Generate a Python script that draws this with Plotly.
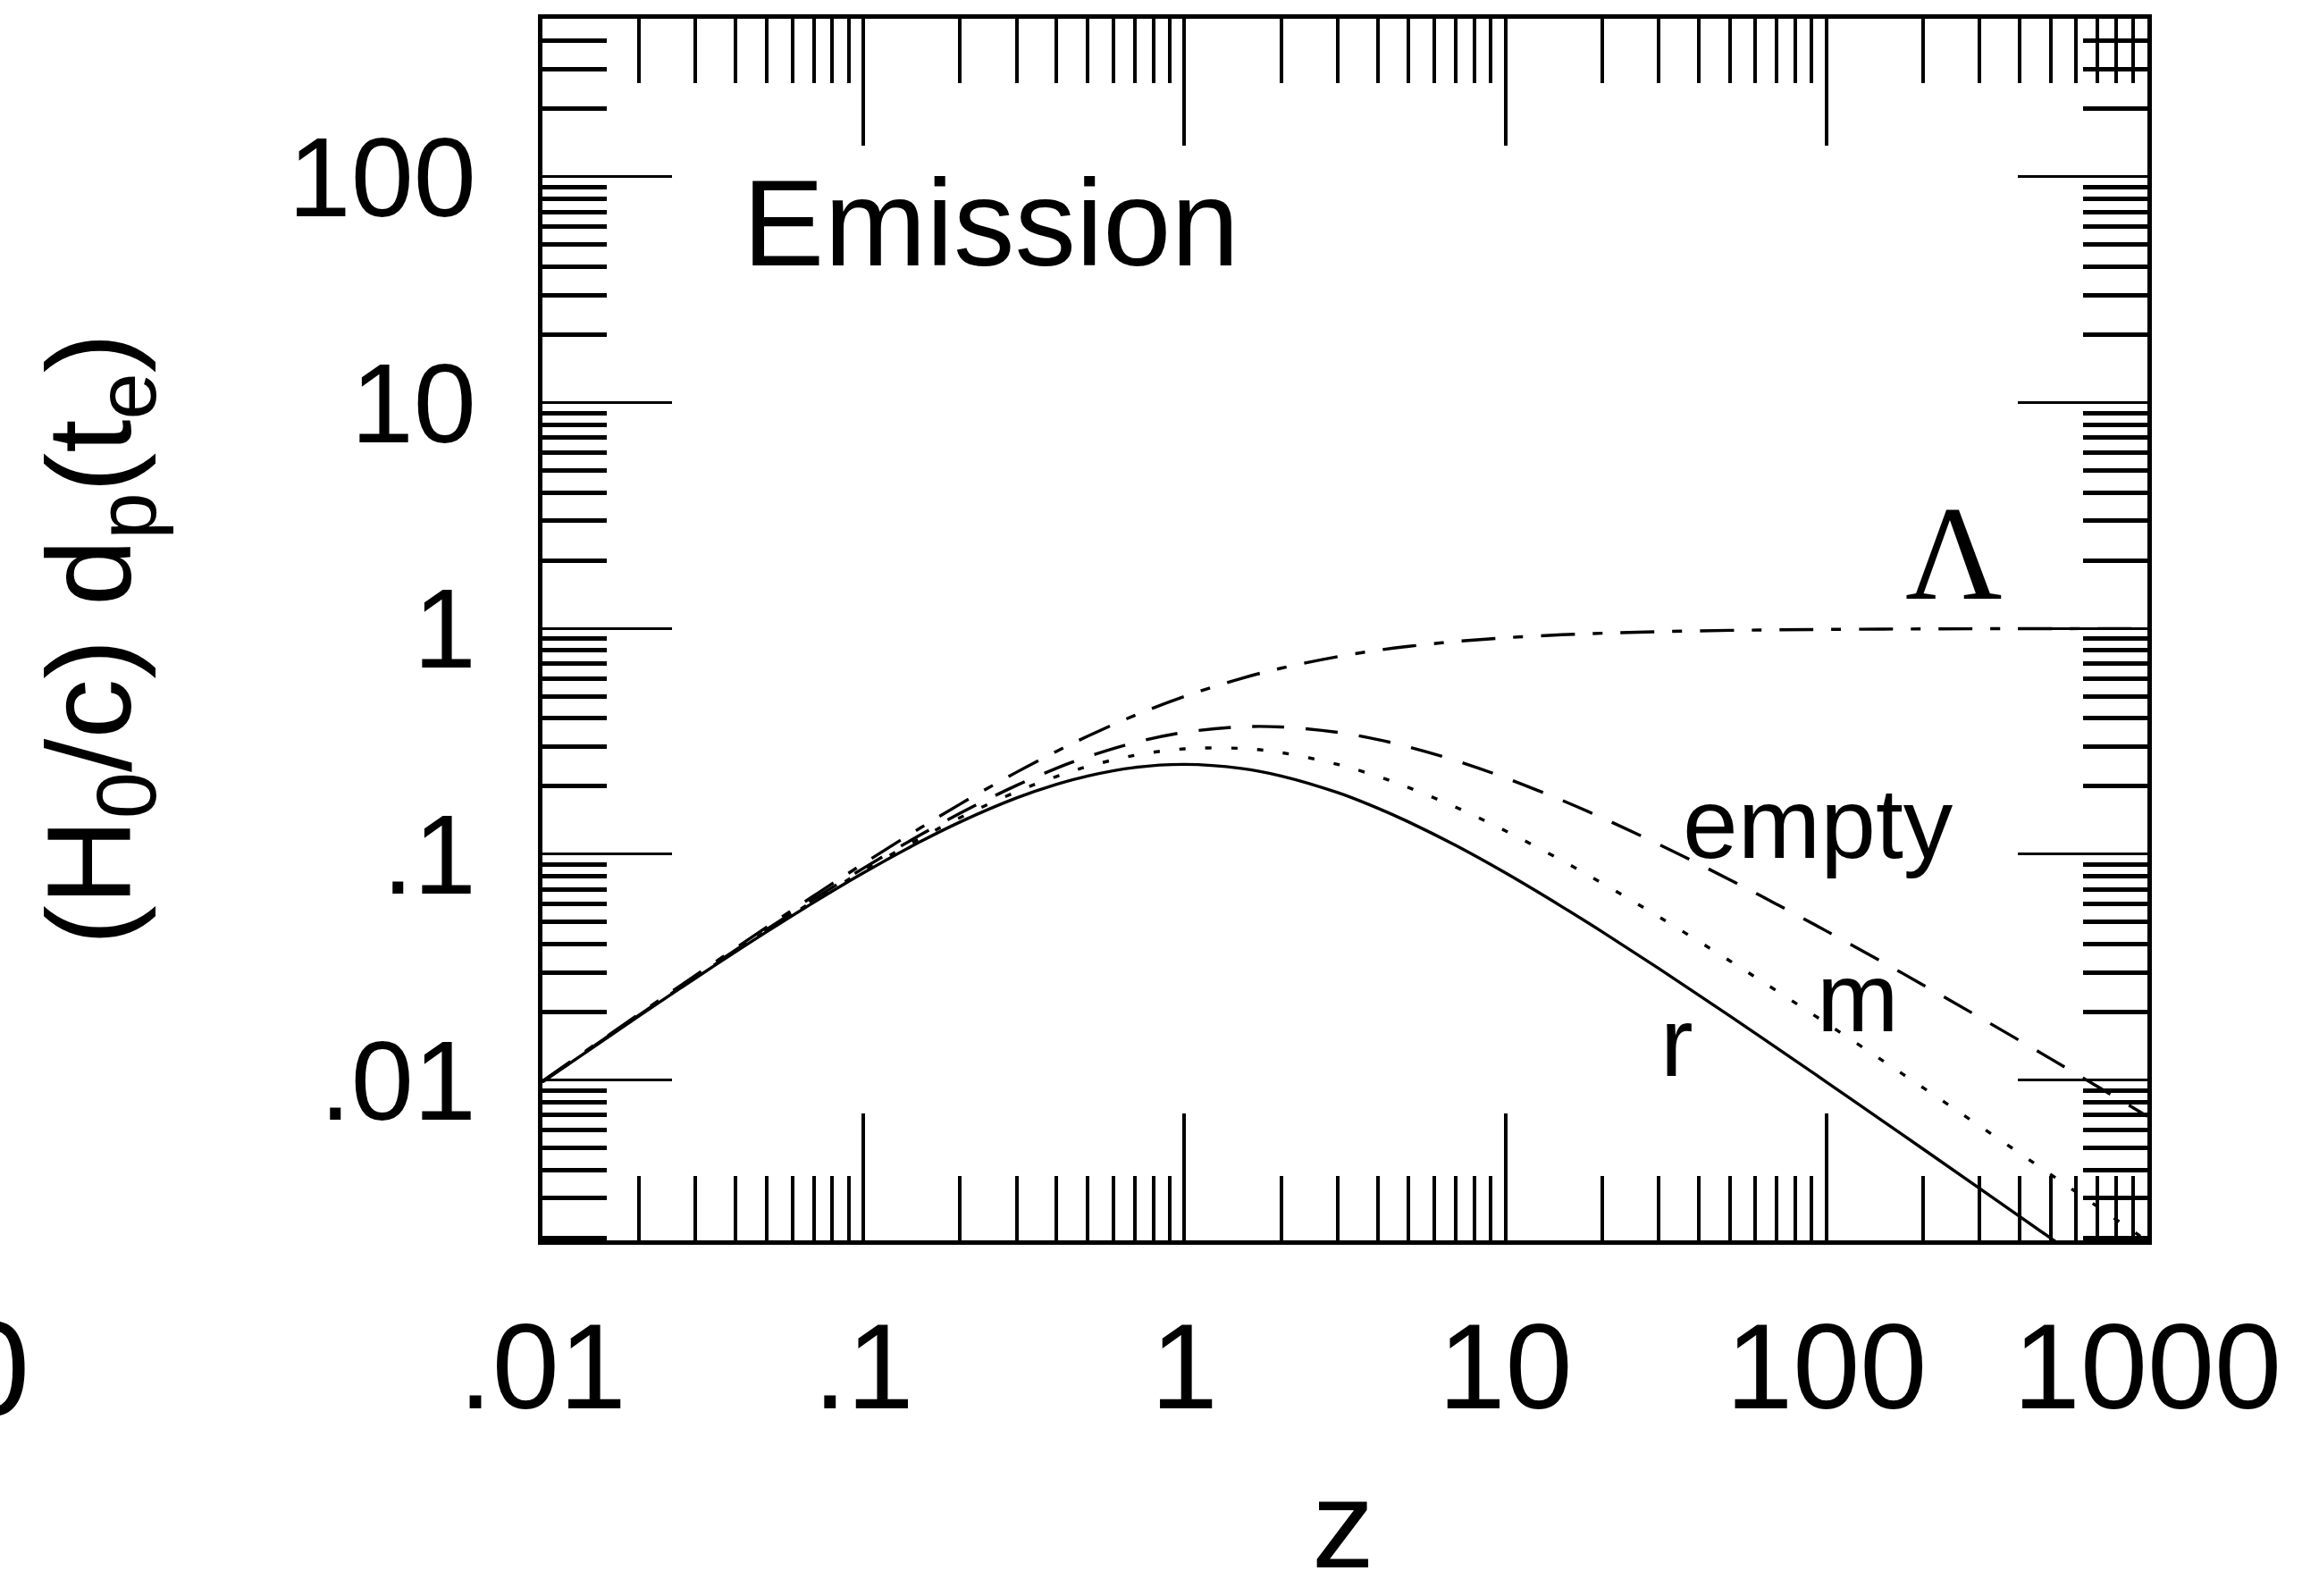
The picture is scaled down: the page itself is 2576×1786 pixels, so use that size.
import plotly.graph_objects as go

# ---------------- data ----------------
z = [0.01, 0.02, 0.03, 0.05, 0.07, 0.1, 0.15, 0.2, 0.3, 0.4, 0.5, 0.7, 1, 1.5, 2, 3, 4, 5,
     7, 10, 15, 20, 30, 50, 70, 100, 150, 200, 300, 500, 700, 1000]

d_lambda = [0.0099, 0.0196, 0.0291, 0.0476, 0.0654, 0.0909, 0.1304, 0.1667, 0.2308, 0.2857,
            0.3333, 0.4118, 0.5, 0.6, 0.6667, 0.75, 0.8, 0.8333, 0.875, 0.9091, 0.9375,
            0.9524, 0.9677, 0.9804, 0.9859, 0.9901, 0.9934, 0.995, 0.9967, 0.998, 0.9986, 0.999]

d_empty = [0.00985, 0.01941, 0.0287, 0.04647, 0.06323, 0.08665, 0.12153, 0.15193, 0.20182,
           0.24034, 0.27031, 0.31213, 0.34657, 0.36652, 0.3662, 0.34657, 0.32189, 0.29863,
           0.25993, 0.21799, 0.17329, 0.14498, 0.11077, 0.0771, 0.06004, 0.04569, 0.03323,
           0.02638, 0.01896, 0.01241, 0.009347, 0.006902]

d_matter = [0.009828, 0.019318, 0.028488, 0.045905, 0.062176, 0.084613, 0.117383, 0.145215,
            0.189142, 0.221209, 0.244671, 0.274159, 0.292893, 0.294035, 0.281767, 0.25,
            0.221114, 0.197251, 0.161612, 0.126998, 0.09375, 0.074455, 0.052929, 0.033724,
            0.024826, 0.017832, 0.012167, 0.009248, 0.006262, 0.003814, 0.002745, 0.001935]

d_radiation = [0.009803, 0.019223, 0.028278, 0.045351, 0.061141, 0.082645, 0.113422, 0.138889,
               0.177515, 0.204082, 0.222222, 0.242215, 0.25, 0.24, 0.222222, 0.1875, 0.16,
               0.138889, 0.109375, 0.082645, 0.058594, 0.045351, 0.031217, 0.019223, 0.013886,
               0.009803, 0.006579, 0.00495, 0.003311, 0.001992, 0.001424, 0.000998]

x_tickvals = [0.01, 0.1, 1, 10, 100, 1000]
x_ticktext = [".01", ".1", "1", "10", "100", "1000"]
y_tickvals = [0.01, 0.1, 1, 10, 100]
y_ticktext = [".01", ".1", "1", "10", "100"]

x_minor = [m * 10.0 ** e for e in range(-2, 3) for m in range(2, 10)]
y_minor = [m * 10.0 ** e for e in range(-3, 3) for m in range(2, 10) if 0.0019 <= m * 10.0 ** e <= 501]

FONT = "Liberation Sans, Arial, Helvetica, sans-serif"

fig = go.Figure()
line_specs = [
    (d_radiation, "solid"),
    (d_matter, "7px,22px"),
    (d_empty, "36px,24px"),
    (d_lambda, "38px,20px,11px,20px"),
]
for ys, dash in line_specs:
    fig.add_trace(go.Scatter(x=z, y=ys, mode="lines", line_shape="spline",
                             line=dict(color="black", width=3.4, dash=dash),
                             hoverinfo="skip"))

axis_common = dict(
    type="log", showline=True, linewidth=5, linecolor="black", mirror="allticks",
    showgrid=False, zeroline=False, ticks="inside", tickcolor="black",
    tickmode="array",
)

fig.update_xaxes(
    **axis_common, range=[-2, 3], tickvals=x_tickvals, ticktext=x_ticktext,
    ticklen=142, tickwidth=3.5, tickfont=dict(family=FONT, size=135, color="black"),
    ticklabelstandoff=21,
    minor=dict(tickmode="array", tickvals=x_minor, ticks="inside", ticklen=72,
               tickwidth=3.5, tickcolor="black", showgrid=False),
)
fig.update_yaxes(
    **axis_common, range=[-2.71, 2.70], tickvals=y_tickvals, ticktext=y_ticktext,
    ticklen=145, tickwidth=3, tickfont=dict(family=FONT, size=126, color="black"),
    ticklabelstandoff=44,
    minor=dict(tickmode="array", tickvals=y_minor, ticks="inside", ticklen=72,
               tickwidth=4.5, tickcolor="black", showgrid=False),
)

ann = [
    dict(text="Emission", x=0.2795, y=0.8325, size=137, family=FONT),
    dict(text="empty", x=0.7951, y=0.3409, size=111, family=FONT),
    dict(text="m", x=0.8196, y=0.199, size=110, family=FONT),
    dict(text="r", x=0.7066, y=0.1624, size=110, family=FONT),
    dict(text="\u039b", x=0.8792, y=0.5625, size=150, family="Liberation Serif, Times New Roman, serif"),
    dict(text="z", x=0.4989, y=-0.2326, size=140, family=FONT),
]
for a in ann:
    fig.add_annotation(text=a["text"], x=a["x"], y=a["y"], xref="paper", yref="paper",
                       xanchor="center", yanchor="middle", showarrow=False,
                       font=dict(family=a["family"], size=a["size"], color="black"))

fig.add_annotation(text="(H<sub>0</sub>/c) d<sub>p</sub>(t<sub>e</sub>)", x=-0.2775, y=0.4923,
                   xref="paper", yref="paper", xanchor="center", yanchor="middle",
                   textangle=-90, showarrow=False,
                   font=dict(family=FONT, size=134, color="black"))

# cut-off glyph of a neighbouring panel at the far left edge
fig.add_annotation(text="0", x=(35 - 607) / 1796, y=-0.105, xref="paper", yref="paper",
                   xanchor="right", yanchor="middle", showarrow=False,
                   font=dict(family=FONT, size=150, color="black"))

fig.update_layout(
    width=2576, height=1786,
    margin=dict(l=607, r=173, t=21, b=398),
    plot_bgcolor="white", paper_bgcolor="white", showlegend=False,
    font=dict(family=FONT, color="black"),
)

fig.write_html("out.html")
